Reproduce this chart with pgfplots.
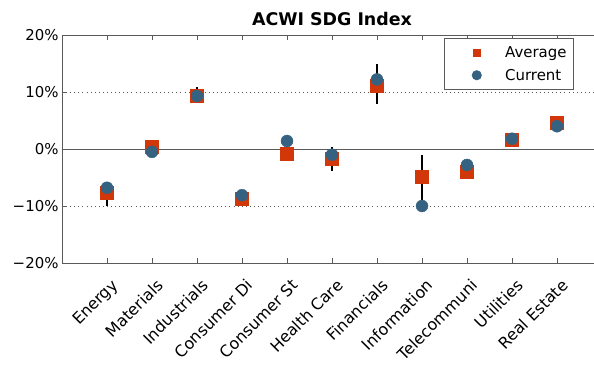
\documentclass[border=0pt]{standalone}
\usepackage{pgfplots}
\pgfplotsset{compat=1.18}
\usepackage{fontspec}
\setmainfont{DejaVu Sans}
\definecolor{avgc}{RGB}{210,55,10}
\definecolor{curc}{RGB}{52,98,128}
\definecolor{axc}{RGB}{90,90,90}
\pgfplotsset{mylegimg/.style={legend image code/.code={\path (-27bp,0) (26bp,0); \draw[##1, mark size=#1] plot coordinates {(0bp,0bp)};}}}
\begin{document}
\begin{tikzpicture}
\begin{axis}[
  scale only axis,
  width=540bp, height=228bp,
  xmin=-1, xmax=11,
  ymin=-20, ymax=20,
  xtick={0,1,2,3,4,5,6,7,8,9,10},
  xticklabels={Energy,Materials,Industrials,Consumer Di,Consumer St,Health Care,Financials,Information,Telecommuni,Utilities,Real Estate},
  xticklabel style={rotate=45, anchor=north east, inner sep=1bp, xshift=-7bp, yshift=-12bp, font=\fontsize{16}{19}\selectfont},
  ytick={-20,-10,10,20},
  yticklabels={−20\%,−10\%,10\%,20\%},
  extra y ticks={0},
  extra y tick labels={0\%},
  extra y tick style={major grid style={solid, axc, line width=0.9pt}},
  ymajorgrids,
  major grid style={dash pattern=on 0.9pt off 3.2pt, axc, line width=0.9pt},
  axis line style={axc, line width=0.9pt},
  tick style={axc, line width=0.8pt},
  major tick length=5bp,
  tick align=inside,
  font=\fontsize{15}{18}\selectfont,
  title={\bfseries ACWI SDG Index},
  title style={font=\fontsize{17.5}{20}\selectfont, at={(0.5,1)}, anchor=south, yshift=0bp},
  legend style={at={(0.948,0.986)}, anchor=north east, draw=axc, line width=0.8pt,
    font=\fontsize{15}{18}\selectfont, row sep=6bp, column sep=0bp, inner xsep=5bp, inner ysep=6bp},
  legend cell align=left,
]
\addplot[draw=none, forget plot, mark=none,
  error bars/.cd, y dir=both, y explicit,
  error bar style={black, line width=1.6pt}, error mark=none]
  table[x=x, y=y, y error=e] {
x y e
0 -8.5 1.5
1 0 0.5
2 9.9 0.9
3 -9 1
4 0.25 1.05
5 -1.75 2.05
6 11.4 3.5
7 -5.55 4.45
8 -3.35 0.55
9 1.7 0.1
10 4.25 0.25
};
\addplot[only marks, mark=square*, mark size=6.5bp, mark options={draw=avgc, fill=avgc}, mylegimg=3.6bp]
  table {
x y
0 -7.6
1 0.4
2 9.4
3 -8.7
4 -0.8
5 -1.7
6 11.1
7 -4.9
8 -3.9
9 1.6
10 4.6
};
\addlegendentry{Average}
\addplot[only marks, mark=*, mark size=6bp, mark options={draw=curc, fill=curc}, mylegimg=4.6bp]
  table {
x y
0 -6.8
1 -0.5
2 9.3
3 -8.1
4 1.4
5 -1.0
6 12.2
7 -10.0
8 -2.8
9 1.8
10 4.0
};
\addlegendentry{Current}
\end{axis}
\pgfresetboundingbox
\useasboundingbox ([xshift=-62bp,yshift=-104bp]current axis.south west) rectangle ([xshift=532bp,yshift=263bp]current axis.south west);
\end{tikzpicture}
\end{document}
